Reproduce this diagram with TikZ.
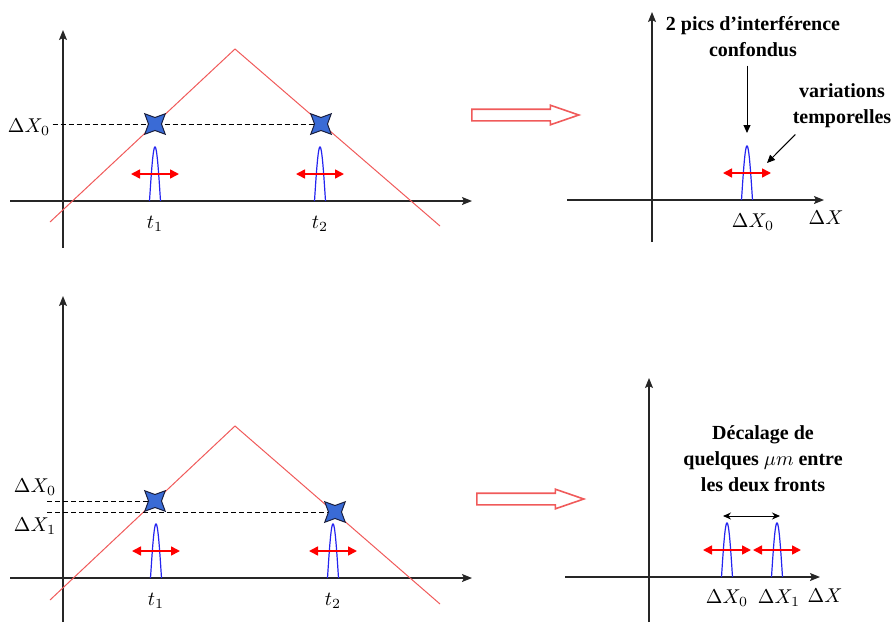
\documentclass[tikz,border=0pt]{standalone}
\usepackage{fontspec}
\setmainfont{Liberation Serif}
\usetikzlibrary{arrows.meta, positioning, shapes.geometric, shapes.arrows}
\definecolor{rouge}{HTML}{F05A5A}
\definecolor{bleu}{HTML}{2424F0}
\definecolor{bleuet}{HTML}{3A6BD6}
\definecolor{marine}{HTML}{1A2040}

\begin{document}
\begin{tikzpicture}[x=0.5pt, y=-0.5pt,
      axe/.style={-{Stealth[length=5pt, width=4pt, inset=1pt]}, line width=0.6pt, draw=black!85},
      courbe/.style={draw=rouge, line width=0.5pt},
      tirets/.style={dash pattern=on 2.5pt off 1.5pt, line width=0.5pt},
      etoile/.style={star, star points=4, star point ratio=0.45, minimum size=6.5pt,
                     inner sep=0pt, fill=bleuet, draw=marine, line width=0.5pt},
      varia/.style={{Triangle[length=4.5pt, width=4.5pt]}-{Triangle[length=4.5pt, width=4.5pt]},
                    draw=red, line width=0.8pt},
      fleche/.style={-{Triangle[length=4pt, width=3.5pt]}, line width=0.5pt},
      ecart/.style={{Stealth[length=4pt, width=3.5pt]}-{Stealth[length=4pt, width=3.5pt]}, line width=0.5pt},
      creuse/.style={single arrow, draw=rouge, fill=white, line width=0.8pt, minimum width=0pt,
                     minimum height=53.5pt, single arrow head extend=2pt, single arrow tip angle=38,
                     single arrow head indent=0pt, inner xsep=0pt, inner ysep=2.5pt, anchor=west},
      txt/.style={font=\fontsize{10}{13}\selectfont\bfseries, align=center, inner sep=1pt},
      lab/.style={inner sep=1pt},
      pointe/.pic={
        \draw[draw=bleu, line width=0.6pt] plot[smooth, domain=-1:1, samples=25] ({5.5*\x},{-54*cos(90*\x)});
        \draw[varia] (-24,-27) -- (24,-27);
      }]
    \useasboundingbox (0,0) rectangle (895,622);

    % en haut a gauche
    \coordinate (o1w) at (10,201);
    \coordinate (o1e) at (472,201);
    \coordinate (o1s) at (63,248);
    \coordinate (o1n) at (63,30);
    \draw[axe] (o1w) -- (o1e);
    \draw[axe] (o1s) -- (o1n);
    \draw[courbe] (50,222) -- (235,49) -- (440,226);
    \node[lab] (dx0a) at (29,127) {$\Delta X_0$};
    \coordinate (c1) at (155,124);
    \coordinate (c2) at (321,124);
    \draw[tirets] (dx0a.east |- c2) -- (c2);
    \node[etoile] (e1) at (c1) {};
    \node[etoile] (e2) at (c2) {};
    \pic at (155,201) {pointe};
    \pic at (320,201) {pointe};
    \node[lab] (t1a) at (155,224) {$t_1$};
    \node[lab] (t2a) at (320,224) {$t_2$};

    \node[creuse] (fl1) at (471,115) {};

    % en haut a droite
    \coordinate (o2w) at (567,200);
    \coordinate (o2e) at (824,200);
    \coordinate (o2s) at (652,242);
    \coordinate (o2n) at (652,12);
    \draw[axe] (o2w) -- (o2e);
    \draw[axe] (o2s) -- (o2n);
    \pic at (747,200) {pointe};
    \node[lab] (dx0b) at (753,222) {$\Delta X_0$};
    \node[lab] (dxb) at (826,218) {$\Delta X$};
    \node[txt] (pics) at (753,37) {2 pics d’interférence\\confondus};
    \coordinate (sommet) at (747,133);
    \draw[fleche, shorten <=3pt] (pics.south -| sommet) -- (sommet);
    \node[txt] (temp) at (842,106) {variations\\temporelles};
    \coordinate (cible) at (767,163);
    \draw[fleche] ([shift={(5,4)}]temp.south west) -- (cible);

    % en bas a gauche
    \coordinate (o3w) at (10,578);
    \coordinate (o3e) at (472,578);
    \coordinate (o3s) at (63,622);
    \coordinate (o3n) at (63,296);
    \draw[axe] (o3w) -- (o3e);
    \draw[axe] (o3s) -- (o3n);
    \draw[courbe] (50,600) -- (235,426) -- (440,604);
    \node[lab] (dx0c) at (35,487) {$\Delta X_0$};
    \node[lab] (dx1c) at (35,526) {$\Delta X_1$};
    \coordinate (d0) at (47,501);
    \coordinate (d1) at (47,512);
    \coordinate (c3) at (155,501);
    \coordinate (c4) at (335,512);
    \draw[tirets] (d0) -- (c3);
    \draw[tirets] (d1) -- (c4);
    \node[etoile] (e3) at (c3) {};
    \node[etoile] (e4) at (c4) {};
    \pic at (156,578) {pointe};
    \pic at (333,578) {pointe};
    \node[lab] (t1c) at (156,601) {$t_1$};
    \node[lab] (t2c) at (333,601) {$t_2$};

    \node[creuse] (fl2) at (476,499) {};

    % en bas a droite
    \coordinate (o4w) at (565,577);
    \coordinate (o4e) at (820,577);
    \coordinate (o4s) at (649,622);
    \coordinate (o4n) at (649,378);
    \draw[axe] (o4w) -- (o4e);
    \draw[axe] (o4s) -- (o4n);
    \pic at (727,577) {pointe};
    \pic at (777,577) {pointe};
    \coordinate (g) at (723,516);
    \coordinate (d) at (780,516);
    \draw[ecart] (g) -- (d);
    \node[txt] (decal) at (763,459) {Décalage de\\quelques $\mu m$ entre\\les deux fronts};
    \node[lab] (dx0d) at (727,598) {$\Delta X_0$};
    \node[lab] (dx1d) at (779,598) {$\Delta X_1$};
    \node[lab] (dxd) at (825,596) {$\Delta X$};
  \end{tikzpicture}
\end{document}
